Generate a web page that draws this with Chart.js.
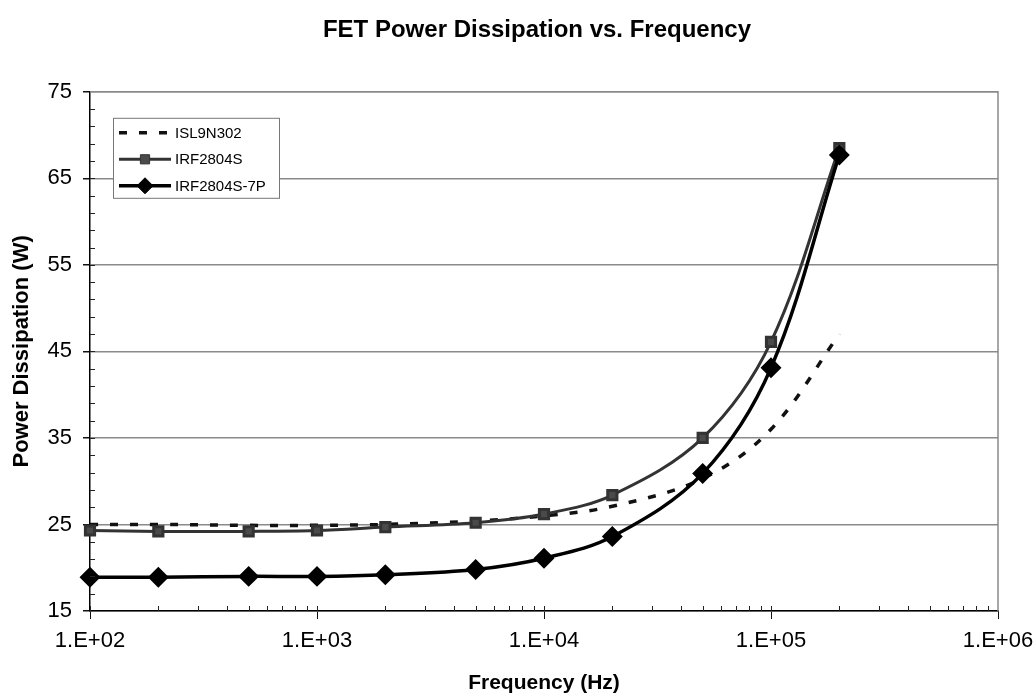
<!DOCTYPE html>
<html>
<head>
<meta charset="utf-8">
<title>FET Power Dissipation vs. Frequency</title>
<script src="https://cdn.jsdelivr.net/npm/chart.js@4/dist/chart.umd.min.js"></script>
<style>
  html, body { margin: 0; padding: 0; background: #fff; }
  #wrap { width: 1036px; height: 696px; }
</style>
</head>
<body>
<div id="wrap"><canvas id="fet-chart" width="1036" height="696"></canvas></div>
<script>
// frequency points (Hz) and power dissipation (W)
const freqs = [100, 200, 500, 1000, 2000, 5000, 10000, 20000, 50000, 100000, 200000];
const isl9n302 = [25.0, 25.0, 24.9, 24.9, 25.0, 25.4, 26.0, 27.1, 30.3, 36.0, 47.0];
const irf2804s = [24.3, 24.2, 24.2, 24.3, 24.7, 25.2, 26.2, 28.4, 35.0, 46.1, 68.5];
const irf2804s7p = [18.9, 18.9, 19.0, 19.0, 19.2, 19.8, 21.1, 23.6, 30.9, 43.1, 67.7];

const seriesNames = ['ISL9N302', 'IRF2804S', 'IRF2804S-7P'];
const xTicks = [1e2, 1e3, 1e4, 1e5, 1e6];
const yTicks = [15, 25, 35, 45, 55, 65, 75];

Chart.defaults.font.family = '"Liberation Sans", Arial, sans-serif';
Chart.defaults.color = '#000';

function toPoints(values) {
    return freqs.map((f, i) => ({ x: f, y: values[i] }));
}

function expLabel(v) {
    const e = Math.round(Math.log10(v));
    return '1.E+' + (e < 10 ? '0' + e : e);
}

// small inward ticks, right/top frame, title shift
const framePlugin = {
    id: 'frame',
    afterLayout(chart) {
        const t = chart.titleBlock;
        if (t) { t.left = 76; }
    },
    afterDraw(chart) {
        const ctx = chart.ctx;
        const area = chart.chartArea;
        const xs = chart.scales.x;
        const ys = chart.scales.y;
        ctx.save();
        // right + top border
        ctx.strokeStyle = '#8a8a8a';
        ctx.lineWidth = 1.5;
        ctx.beginPath();
        ctx.moveTo(area.left, area.top);
        ctx.lineTo(area.right, area.top);
        ctx.lineTo(area.right, area.bottom);
        ctx.stroke();

        ctx.strokeStyle = '#222';
        ctx.lineWidth = 1;
        ctx.beginPath();
        for (let d = 2; d < 6; d++) {
            for (let m = 1; m < 10; m++) {
                const px = Math.round(xs.getPixelForValue(m * Math.pow(10, d))) + 0.5;
                ctx.moveTo(px, area.bottom);
                ctx.lineTo(px, area.bottom - 5);
            }
        }
        for (let v = 17; v < 75; v += 2) {
            const py = Math.round(ys.getPixelForValue(v)) + 0.5;
            ctx.moveTo(area.left, py);
            ctx.lineTo(area.left + 5, py);
        }
        ctx.stroke();
        ctx.restore();
    }
};

// boxed legend inside the plot, like the original
const boxLegend = {
    id: 'boxLegend',
    afterDraw(chart) {
        const ctx = chart.ctx;
        const area = chart.chartArea;
        const left = area.left + 23;
        const top = area.top + 26;
        const w = 166, h = 80;
        ctx.save();
        ctx.fillStyle = '#fff';
        ctx.fillRect(left, top, w, h);
        ctx.strokeStyle = '#777';
        ctx.lineWidth = 1;
        ctx.strokeRect(left + 0.5, top + 0.5, w, h);

        chart.data.datasets.forEach((ds, i) => {
            const y = top + 15 + i * 26.5;
            ctx.strokeStyle = ds.borderColor;
            ctx.lineWidth = ds.borderWidth;
            ctx.setLineDash(ds.borderDash || []);
            ctx.beginPath();
            ctx.moveTo(left + 6, y);
            ctx.lineTo(left + 58, y);
            ctx.stroke();
            ctx.setLineDash([]);
            if (ds.pointRadius > 0) {
                ctx.fillStyle = ds.pointBackgroundColor;
                ctx.strokeStyle = ds.pointBorderColor;
                ctx.lineWidth = 1;
                Chart.helpers.drawPoint(ctx, {
                    pointStyle: ds.pointStyle,
                    radius: ds.pointRadius,
                    rotation: 0,
                    borderWidth: 1
                }, left + 32, y);
            }
            ctx.fillStyle = '#000';
            ctx.font = '15px "Liberation Sans", Arial, sans-serif';
            ctx.textBaseline = 'middle';
            ctx.fillText(ds.label, left + 62, y + 1);
        });
        ctx.restore();
    }
};

new Chart(document.querySelector('#fet-chart').getContext('2d'), {
    type: 'line',
    data: {
        datasets: [
            {
                label: seriesNames[0],
                data: toPoints(isl9n302),
                borderColor: '#111',
                borderWidth: 3.5,
                borderDash: [8, 12],
                pointRadius: 0,
                tension: 0.35,
                fill: false,
                clip: false,
                order: 3
            },
            {
                label: seriesNames[1],
                data: toPoints(irf2804s),
                borderColor: '#333',
                borderWidth: 3,
                pointStyle: 'rect',
                pointRadius: 6.5,
                pointBackgroundColor: '#4a4a4a',
                pointBorderColor: '#333',
                tension: 0.35,
                fill: false,
                clip: false,
                order: 2
            },
            {
                label: seriesNames[2],
                data: toPoints(irf2804s7p),
                borderColor: '#000',
                borderWidth: 3.5,
                pointStyle: 'rectRot',
                pointRadius: 8,
                pointBackgroundColor: '#000',
                pointBorderColor: '#000',
                tension: 0.35,
                fill: false,
                clip: false,
                order: 1
            }
        ]
    },
    options: {
        responsive: false,
        animation: false,
        layout: { padding: { left: 0, right: 38, top: 0, bottom: 0 } },
        plugins: {
            legend: { display: false },
            tooltip: { enabled: false },
            title: {
                display: true,
                text: 'FET Power Dissipation vs. Frequency',
                font: { size: 24, weight: 'bold' },
                color: '#000',
                padding: { top: 16, bottom: 47 }
            }
        },
        scales: {
            x: {
                type: 'logarithmic',
                min: 100,
                max: 1000000,
                afterBuildTicks: scale => { scale.ticks = xTicks.map(v => ({ value: v })); },
                afterFit: scale => {
                    scale.height = 85;
                    scale.paddingLeft = 0;
                    scale.paddingRight = 0;
                },
                grid: {
                    drawOnChartArea: false,
                    drawTicks: true,
                    tickLength: 8,
                    tickColor: '#111'
                },
                border: { color: '#000', width: 1.5 },
                ticks: {
                    autoSkip: false,
                    maxRotation: 0,
                    padding: 9,
                    font: { size: 22 },
                    color: '#000',
                    callback: v => expLabel(v)
                },
                title: {
                    display: true,
                    text: 'Frequency (Hz)',
                    font: { size: 21, weight: 'bold' },
                    color: '#000',
                    padding: { top: 0, bottom: 0 }
                }
            },
            y: {
                min: 15,
                max: 75,
                afterBuildTicks: scale => { scale.ticks = yTicks.map(v => ({ value: v })); },
                afterFit: scale => { scale.width = 90; },
                grid: {
                    color: '#8a8a8a',
                    lineWidth: 1.5,
                    drawTicks: true,
                    tickLength: 7,
                    tickColor: '#111'
                },
                border: { color: '#000', width: 1.5 },
                ticks: {
                    padding: 11,
                    font: { size: 22 },
                    color: '#000'
                },
                title: {
                    display: true,
                    text: 'Power Dissipation (W)',
                    font: { size: 22, weight: 'bold' },
                    color: '#000',
                    padding: { top: 9, bottom: 0 }
                }
            }
        }
    },
    plugins: [framePlugin, boxLegend]
});
</script>
</body>
</html>
